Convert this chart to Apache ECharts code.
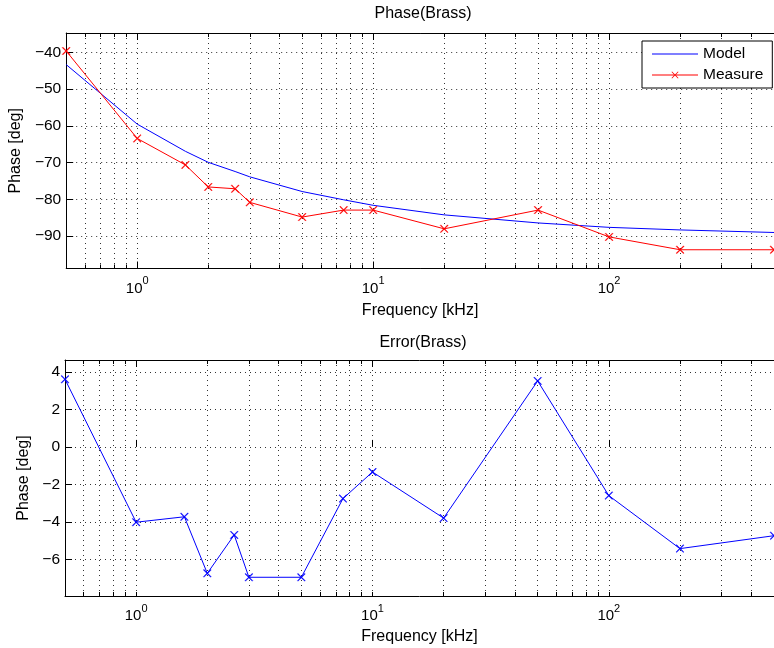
<!DOCTYPE html>
<html><head><meta charset="utf-8">
<script src="https://cdn.jsdelivr.net/npm/echarts@6/dist/echarts.min.js"></script>
<style>html,body{margin:0;padding:0;background:#fff}#c{width:774px;height:648px}</style>
</head><body><div id="c"></div>
<script>
// ---- data ----
const freq    = [0.5, 1, 1.6, 2, 2.6, 3, 5, 7.5, 10, 20, 50, 100, 200, 500];
const model   = [-43.3, -59.5, -66.9, -69.9, -72.4, -73.85, -77.85, -80.1, -81.6, -84.2, -86.4, -87.6, -88.3, -89.0];
const measure = [-39.6, -63.4, -70.6, -76.6, -77.1, -80.8, -84.8, -82.9, -82.9, -88.0, -82.9, -90.2, -93.7, -93.7];
const errorV  = [3.61, -4.02, -3.73, -6.75, -4.70, -6.96, -6.96, -2.76, -1.34, -3.80, 3.52, -2.60, -5.43, -4.74];
const xMajorTicks = [1, 10, 100];
const xMajorExp   = ['0', '1', '2'];
const xMinorTicks = [0.6,0.7,0.8,0.9,1,2,3,4,5,6,7,8,9,10,20,30,40,50,60,70,80,90,100,200,300,400];
const phaseTicks = [-90, -80, -70, -60, -50, -40];
const errorTicks = [-6, -4, -2, 0, 2, 4];
const xRange = [0.5, 500];
const phaseRange = [-98.8, -34.7];
const errorRange = [-7.96, 4.64];

const FONT = 'Liberation Sans, Arial, Helvetica, sans-serif';
const lg = v => Math.log10(v);
const majorLog = xMajorTicks.map(lg);
const minorLog = xMinorTicks.map(lg);
const XSYM = 'path://M0,0.8L0.8,0L5,4.2L9.2,0L10,0.8L5.8,5L10,9.2L9.2,10L5,5.8L0.8,10L0,9.2L4.2,5Z';
// legend icons: 46x14 box (tiny corner specks fix the bounding box)
const SPECKS = 'M0,0h0.02v0.02h-0.02zM45.98,13.98h0.02v0.02h-0.02z';
const ICON_LINE = 'path://' + SPECKS + 'M0,6.5h46v1h-46z';
const ICON_LINE_X = 'path://' + SPECKS + 'M0,6.5h46v1h-46z' +
  'M19.5,4.06L20.06,3.5L23,6.44L25.94,3.5L26.5,4.06L23.56,7L26.5,9.94L25.94,10.5L23,7.56L20.06,10.5L19.5,9.94L22.44,7Z';
const grid0 = {left: 65, top: 33, width: 715.5, height: 235.5};
const grid1 = {left: 65, top: 360, width: 715.5, height: 236};
const dotted = {type: [1, 4], color: '#333', width: 1};

function xAxesFor(gi, nameGap) {
  const base = {type: 'value', gridIndex: gi, min: lg(xRange[0]), max: lg(xRange[1])};
  return [
    Object.assign({}, base, {
      position: 'bottom', axisLine: {show: true, onZero: false, lineStyle: {color: '#000', width: 1}},
      axisTick: {show: true, inside: true, length: 4, customValues: minorLog, lineStyle: {color: '#000'}},
      axisLabel: {show: true, customValues: majorLog, margin: 7, color: '#000',
        formatter: v => {
          const i = majorLog.findIndex(m => Math.abs(m - v) < 1e-6);
          return '{b|10}{s|' + (i >= 0 ? xMajorExp[i] : '') + '}';
        },
        rich: {b: {fontSize: 15, lineHeight: 26, fontFamily: FONT, color: '#000'},
               s: {fontSize: 11, lineHeight: 8, verticalAlign: 'top', fontFamily: FONT, color: '#000'}}},
      splitLine: {show: true, lineStyle: dotted},
      name: 'Frequency [kHz]', nameLocation: 'middle', nameGap: nameGap,
      nameTextStyle: {fontSize: 16, color: '#000', fontFamily: FONT}
    }),
    Object.assign({}, base, {
      position: 'bottom', axisLine: {show: false},
      axisTick: {show: true, inside: true, length: 7, customValues: majorLog, lineStyle: {color: '#000'}},
      axisLabel: {show: false}, splitLine: {show: false}
    }),
    Object.assign({}, base, {
      position: 'top', axisLine: {show: true, onZero: false, lineStyle: {color: '#000', width: 1}},
      axisTick: {show: true, inside: true, length: 4, customValues: minorLog, lineStyle: {color: '#000'}},
      axisLabel: {show: false}, splitLine: {show: false}
    }),
    Object.assign({}, base, {
      position: 'top', axisLine: {show: false},
      axisTick: {show: true, inside: true, length: 7, customValues: majorLog, lineStyle: {color: '#000'}},
      axisLabel: {show: false}, splitLine: {show: false}
    })
  ];
}
function yAxisFor(gi, range, ticks, nameGap) {
  return {
    type: 'value', gridIndex: gi, min: range[0], max: range[1], position: 'left',
    axisLine: {show: true, onZero: false, lineStyle: {color: '#000', width: 1}},
    axisTick: {show: true, inside: true, length: 7, customValues: ticks, lineStyle: {color: '#000'}},
    axisLabel: {show: true, customValues: ticks, margin: 5, color: '#000', fontSize: 15.5, fontFamily: FONT,
      formatter: v => String(Math.round(v)).replace('-', '\u2212')},
    splitLine: {show: true, lineStyle: dotted},
    name: 'Phase [deg]', nameLocation: 'middle', nameGap: nameGap,
    nameTextStyle: {fontSize: 16, color: '#000', fontFamily: FONT}
  };
}
const pts = (ys) => freq.map((f, i) => [lg(f), ys[i]]);

const chart = echarts.init(document.getElementById('c'), null, {renderer: 'canvas'});
chart.setOption({
  animation: false,
  backgroundColor: '#fff',
  textStyle: {fontFamily: FONT},
  title: [
    {text: 'Phase(Brass)', left: 423, top: 6, textAlign: 'center', padding: 0,
     textStyle: {fontSize: 16, fontWeight: 'normal', color: '#000', fontFamily: FONT}},
    {text: 'Error(Brass)', left: 423, top: 335, textAlign: 'center', padding: 0,
     textStyle: {fontSize: 16, fontWeight: 'normal', color: '#000', fontFamily: FONT}}
  ],
  legend: {
    left: 642, top: 41, orient: 'vertical',
    data: [
      {name: 'Model', icon: ICON_LINE, itemStyle: {color: '#0000ff', borderWidth: 0}, lineStyle: {width: 0}},
      {name: 'Measure', icon: ICON_LINE_X, itemStyle: {color: '#ff0000', borderWidth: 0}, lineStyle: {width: 0}}
    ],
    backgroundColor: '#fff', borderColor: '#000', borderWidth: 1, borderRadius: 0,
    padding: [5, 9, 5, 10], itemWidth: 46, itemHeight: 14, itemGap: 5,
    textStyle: {fontSize: 15.5, color: '#000', fontFamily: FONT}
  },
  grid: [grid0, grid1],
  xAxis: [].concat(xAxesFor(0, 34), xAxesFor(1, 33)),
  yAxis: [yAxisFor(0, phaseRange, phaseTicks, 35), yAxisFor(1, errorRange, errorTicks, 25)],
  series: [
    {name: 'Model', type: 'line', xAxisIndex: 0, yAxisIndex: 0, data: pts(model), symbol: 'none',
     clip: false, lineStyle: {color: '#0000ff', width: 1}, itemStyle: {color: '#0000ff'}},
    {name: 'Measure', type: 'line', xAxisIndex: 0, yAxisIndex: 0, data: pts(measure), symbol: XSYM,
     symbolSize: 8, clip: false, lineStyle: {color: '#ff0000', width: 1},
     itemStyle: {color: '#ff0000', borderColor: '#ff0000', borderWidth: 0.3}},
    {name: 'Error', type: 'line', xAxisIndex: 4, yAxisIndex: 1, data: pts(errorV), symbol: XSYM,
     symbolSize: 8, clip: false, lineStyle: {color: '#0000ff', width: 1},
     itemStyle: {color: '#0000ff', borderColor: '#0000ff', borderWidth: 0.3}}
  ]
});
</script></body></html>
